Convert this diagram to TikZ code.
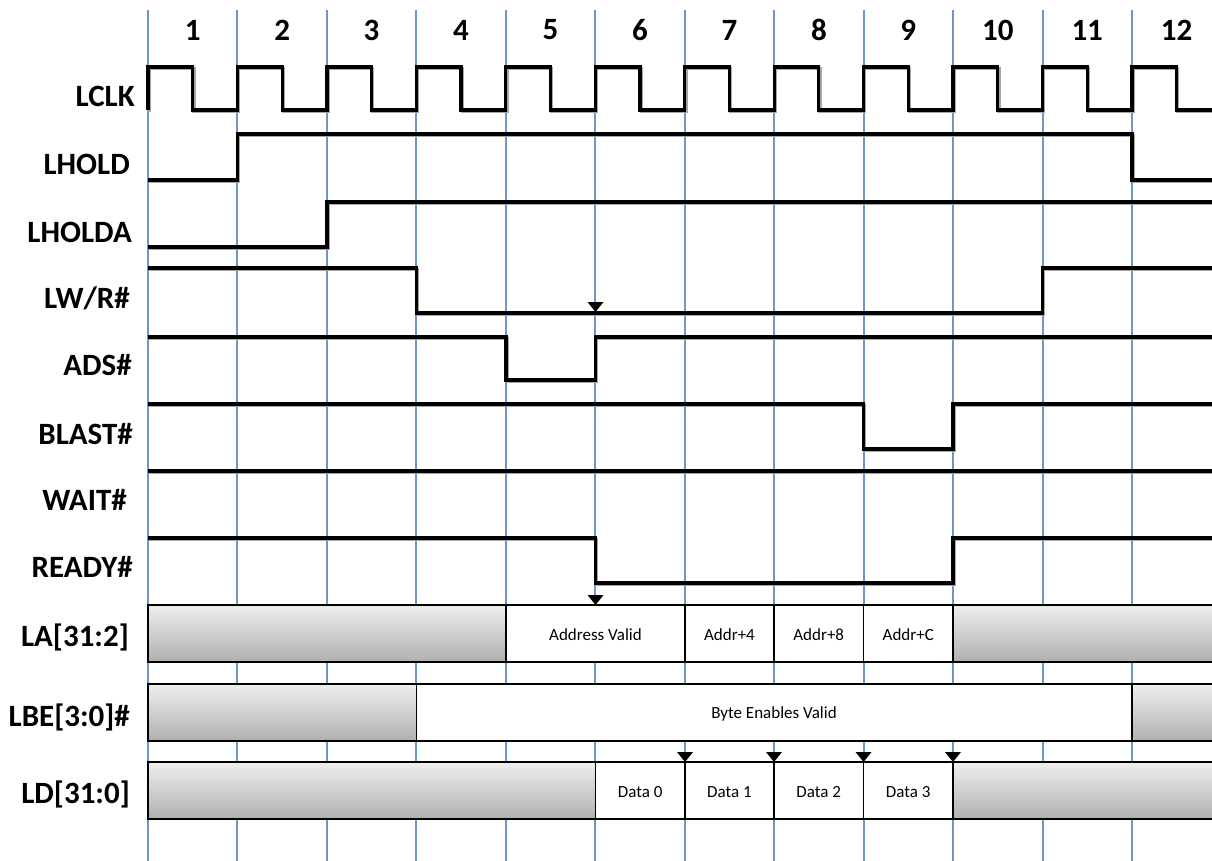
\documentclass[tikz,border=0pt]{standalone}
\usepackage{fontspec}
\setmainfont{Carlito}
\definecolor{gridblue}{RGB}{110,150,200}
\definecolor{buslight}{RGB}{238,238,238}
\definecolor{busdark}{RGB}{176,176,176}
\begin{document}
\begin{tikzpicture}[x=1pt,y=-1pt,
  gridline/.style={draw=gridblue, line width=2pt},
  wave/.style={line width=3.2pt, line join=miter, draw=black,
    preaction={draw=black!35, line width=3.2pt, transform canvas={shift={(1.2pt,-1.6pt)}}}},
  busg/.style={draw=black, line width=1.7pt, top color=buslight, bottom color=busdark},
  busw/.style={draw=black, line width=1.7pt, fill=white},
  lab/.style={anchor=base east, inner sep=0pt, font=\bfseries\fontsize{31}{36}\selectfont},
  num/.style={inner sep=0pt, font=\bfseries\fontsize{31}{36}\selectfont},
  bt/.style={anchor=base, inner sep=0pt, font=\fontsize{17}{20}\selectfont},
  tick/.style={fill=black}
]
\useasboundingbox (0,0) rectangle (1212,861);
\clip (0,0) rectangle (1212,861);
\fill[white] (0,0) rectangle (1212,861);

% grid lines and cycle numbers
\foreach \i in {0,...,11} \draw[gridline] ({148+89.45*\i},10) -- ({148+89.45*\i},861);
\foreach \i in {1,...,12} \node[num] (n\i) at ({148+89.45*(\i-1)+44.7},30) {\i};

% labels
\node[lab] (lclk)   at (135,107) {LCLK};
\node[lab] (lhold)  at (130,175) {LHOLD};
\node[lab] (lholda) at (132,242) {LHOLDA};
\node[lab] (lwr)    at (130,308) {LW/R\#};
\node[lab] (ads)    at (132,375) {ADS\#};
\node[lab] (blast)  at (133,444) {BLAST\#};
\node[lab] (wait)   at (127,510) {WAIT\#};
\node[lab] (ready)  at (133,577) {READY\#};
\node[lab] (la)     at (129,646) {LA[31:2]};
\node[lab] (lbe)    at (130,726) {LBE[3:0]\#};
\node[lab] (ld)     at (130,803) {LD[31:0]};

% clock
\draw[wave] (148,110) \foreach \i in {0,...,11} {
  -- ({148+89.45*\i},67) -- ({148+89.45*\i+44.7},67)
  -- ({148+89.45*\i+44.7},110) -- ({148+89.45*(\i+1)},110) };

% control signals
\draw[wave] (148,180) -- (237.5,180) -- (237.5,134) -- (1132,134) -- (1132,180) -- (1220,180);
\draw[wave] (148,247) -- (327,247) -- (327,202) -- (1220,202);
\draw[wave] (148,268) -- (416.5,268) -- (416.5,313) -- (1042.5,313) -- (1042.5,268) -- (1220,268);
\draw[wave] (148,337) -- (506,337) -- (506,380) -- (595.5,380) -- (595.5,337) -- (1220,337);
\draw[wave] (148,404) -- (863.5,404) -- (863.5,449) -- (953,449) -- (953,404) -- (1220,404);
\draw[wave] (148,471) -- (1220,471);
\draw[wave] (148,538) -- (595.5,538) -- (595.5,583) -- (953,583) -- (953,538) -- (1220,538);

% LA[31:2]
\draw[busg] (148,605) rectangle (506,662);
\draw[busw] (506,605) rectangle (685,662);
\draw[busw] (685,605) rectangle (774,662);
\draw[busw] (774,605) rectangle (863.5,662);
\draw[busw] (863.5,605) rectangle (953,662);
\draw[busg] (953,605) rectangle (1220,662);
\node[bt] (addrv) at (595.5,640) {Address Valid};
\node[bt] (addr4) at (729.5,640) {Addr+4};
\node[bt] (addr8) at (818.75,640) {Addr+8};
\node[bt] (addrc) at (908.25,640) {Addr+C};

% LBE[3:0]#
\draw[busg] (148,684) rectangle (416.5,741);
\draw[busw] (416.5,684) rectangle (1132,741);
\draw[busg] (1132,684) rectangle (1220,741);
\node[bt] (bev) at (774,718) {Byte Enables Valid};

% LD[31:0]
\draw[busg] (148,762) rectangle (595.5,819);
\draw[busw] (595.5,762) rectangle (685,819);
\draw[busw] (685,762) rectangle (774,819);
\draw[busw] (774,762) rectangle (863.5,819);
\draw[busw] (863.5,762) rectangle (953,819);
\draw[busg] (953,762) rectangle (1220,819);
\node[bt] (d0) at (640.25,797) {Data 0};
\node[bt] (d1) at (729.5,797) {Data 1};
\node[bt] (d2) at (818.75,797) {Data 2};
\node[bt] (d3) at (908.25,797) {Data 3};

% sampling markers
\foreach \x/\y in {595.5/312, 595.5/605, 685/762, 774/762, 863.5/762, 953/762}
  \fill[tick] (\x,\y) -- ++(-8,-10) -- ++(16,0) -- cycle;
\end{tikzpicture}
\end{document}
